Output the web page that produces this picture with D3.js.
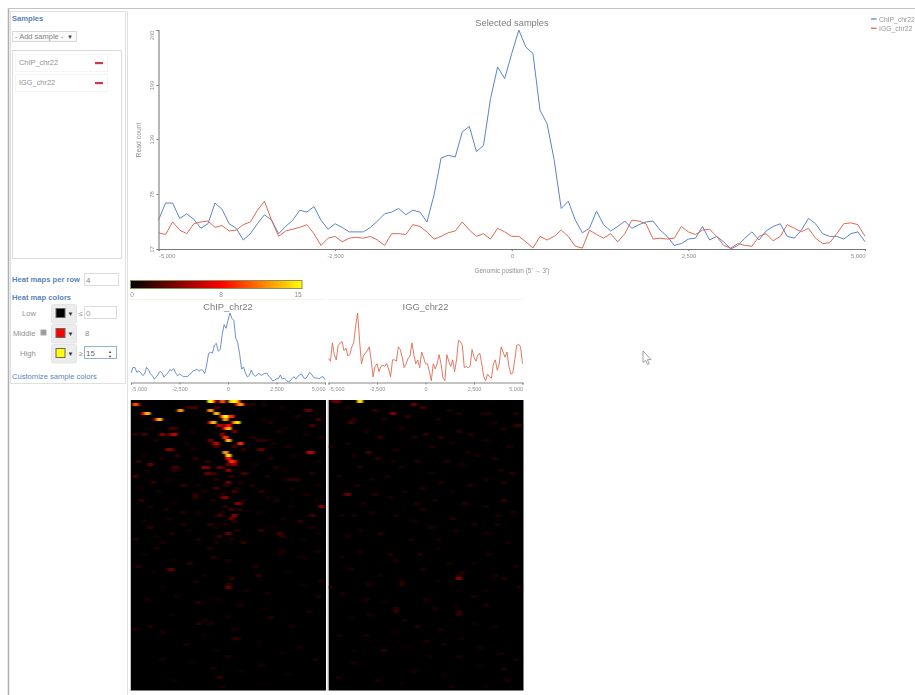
<!DOCTYPE html>
<html><head><meta charset="utf-8">
<script src="https://cdnjs.cloudflare.com/ajax/libs/d3/7.8.5/d3.min.js"></script>
<style>
html,body{margin:0;padding:0;background:#fff;overflow:hidden}
svg{display:block;filter:blur(0.5px)}
text{font-family:"Liberation Sans",Arial,sans-serif}
</style></head><body><svg id="c" width="915" height="695"></svg>
<script>
// ---------- data ----------
const sampleNames = ["ChIP_chr22", "IGG_chr22"];
const sampleColors = ["#5b83c9", "#dc6a50"];
const chipValues = [49,68,68,51,56,50,40,45,68,61,45,40,27,34,45,55,49,34,42,49,60,58,64,49,39,45,41,36,36,36,41,48,56,58,62,55,60,58,47,77,118,121,119,147,153,125,132,184,219,206,234,260,241,234,171,156,116,62,70,49,35,40,59,44,37,42,48,40,44,47,48,38,31,21,23,28,29,42,27,31,25,17,21,29,36,27,37,42,45,31,29,38,51,45,34,31,31,28,34,36,25];
const iggValues = [35,33,47,38,34,45,47,48,41,43,37,38,44,47,60,70,49,31,37,39,41,44,34,21,29,31,25,29,30,29,31,27,21,34,34,33,44,42,36,28,31,35,37,47,38,31,34,28,40,36,31,31,25,18,31,27,31,38,31,20,18,38,33,29,34,25,34,49,48,45,28,29,28,29,42,36,33,38,39,31,21,18,23,21,20,31,34,26,31,44,40,36,40,29,23,24,34,45,46,44,31];
const positions = d3.range(101).map(i => -5000 + i * 100);
const mainYTicks = [17, 78, 139, 199, 260];
const xTicks = [-5000, -2500, 0, 2500, 5000];
const colorDomain = [0, 8, 15];
const colorRange = ["#000000", "#ff0000", "#ffff00"];
// heat map spots: [row, column, value]
const chipCells = [
[0,26,15],[0,27,8],[0,30,10],[0,33,13],[0,34,15],[0,35,10],[1,36,12],[1,35,6.5],[1,1,10],[1,2,4],[1,37,4],[1,40,2.3],[1,44,1.7],
[3,16,12],[3,15,2.3],[2,21,3],[2,19,3],[2,20,2.3],[2,28,3],[4,5,13],[4,4,8],[3,26,12],[4,28,13],[5,31,15],[5,30,9],[5,33,9],[3,59,4],[3,58,3],
[6,9,13],[6,8,6.5],[7,27,13],[7,26,6.5],[6,31,12],[7,35,14],[7,34,10],[8,32,8],[8,29,6.5],[8,30,5],[9,32,13],[9,31,8],[10,34,4],[8,60,3],[6,62,3],
[9,13,3],[9,14,3],[11,14,6.5],[11,13,5],[11,10,5],[11,4,3],[11,1,2.3],[11,30,5],[12,31,9],[13,32,13],[13,26,4],[14,28,6.5],[14,27,3],[14,36,9],[13,42,2.3],[13,44,2.3],
[16,12,5],[16,13,4],[16,43,4],[16,42,2.3],[17,59,6.5],[17,60,5],[17,31,12],[18,32,14],[19,32,8],[20,33,9],[20,34,6.5],[21,34,5],[21,32,4],[21,6,4],[20,2,2.3],
[22,24,5],[22,25,4],[22,29,4],[22,30,3],[22,14,3],[22,15,2.3],[23,32,5],[25,1,3],[24,25,4],[24,26,3],[24,27,3],[27,32,4],[24,37,3],[24,38,2.3],[26,53,2.3],[26,55,2.3],[26,51,1.7],
[18,15,2.3],[19,21,2.3],[15,28,3],[15,34,3],[16,37,2.3],[20,25,2.3],[23,14,2.3],[27,7,2.3],[28,17,2.3],[29,28,3],[30,34,3],[31,21,2.3],[32,31,5],[32,30,3],[34,35,5],[34,36,3],[35,63,5],[36,33,3],
[33,3,2.3],[32,21,2.3],[30,43,2.3],[33,48,1.7],[38,34,5],[38,29,3],[38,60,3],[39,33,4],[40,56,2.3],[41,26,2.3],[42,6,2.3],[44,32,4],[44,49,3],[45,50,2.3],[45,29,2.3],[46,1,1.7],[47,37,2.3],[47,10,1.7],[43,43,2.3],[41,17,1.7],
[22,48,1.7],[28,40,1.7],[31,58,1.7],[36,11,1.7],[37,17,1.7],[42,60,1.7],[44,13,1.7],[46,22,1.7],[10,49,1.7],[12,40,1.7],[15,52,1.7],[7,46,1.7],[5,55,1.7],[12,63,1.7],[19,46,1.7],[24,60,1.7],
[26,28,2],[28,31,2.2],[29,35,1.8],[31,30,2],[33,27,1.6],[35,31,2],[36,36,1.8],[37,30,1.6],[40,34,2],[41,31,1.6],[42,28,1.5],[43,35,1.7],[25,33,2.2],[27,36,1.7],[30,24,1.6],[33,37,1.6],[46,33,1.6],[47,28,1.4],
[5,3,1.2],[9,6,1.2],[13,8,1.4],[14,18,1.2],[18,4,1.2],[19,10,1.4],[23,5,1.2],[26,12,1.4],[29,3,1.2],[30,9,1.4],[34,14,1.2],[35,6,1.2],[39,12,1.4],[40,4,1.2],[43,19,1.2],[45,8,1.2],[28,22,1.4],[37,22,1.3],[16,20,1.3],[10,20,1.2],
[6,44,1.3],[9,51,1.2],[14,47,1.4],[18,54,1.2],[21,41,1.4],[23,51,1.2],[25,45,1.4],[29,53,1.3],[32,45,1.2],[35,53,1.3],[37,42,1.2],[39,50,1.3],[42,47,1.2],[46,57,1.3],[20,62,1.2],[28,62,1.2],[33,61,1.2],[44,62,1.2],[2,50,1.3],[11,58,1.2],
[56,13,4],[56,12,2.3],[62,32,4],[61,32,2.3],[59,33,2.3],[58,42,2.3],[52,27,2],[55,2,2],[67,22,2],[74,22,2],[75,6,1.7],[79,35,2.3],[79,34,2],[76,34,1.7],[92,29,2.3],[72,46,2],
[54,19,2],[55,41,1.7],[49,26,1.7],[49,8,1.7],[53,32,1.7],[81,18,1.7],[77,10,1.7],[89,27,1.7],[95,30,1.4],[65,62,1.7],[60,63,1.7],[70,59,1.7],[75,53,1.4],[50,50,1.7],[51,49,1.4],[68,36,1.7],[85,32,1.7],[88,43,1.4],[82,56,1.4],[86,61,1.4],[86,10,1.4],[66,5,1.7],[65,15,1.4],[76,1,1.7],[50,62,1.4],[52,57,1.4],[60,21,1.4],[64,45,1.4],[74,26,1.7],[73,24,1.4],
[51,4,1.1],[53,14,1.1],[57,7,1.1],[58,24,1.2],[62,10,1],[63,38,1.1],[66,28,1.1],[69,44,1],[71,13,1],[72,32,1.2],[78,24,1],[80,42,1],[83,28,1.1],[84,50,1],[87,20,1],[90,36,1],[91,52,1],[93,14,1],[94,44,1],[57,52,1.1],[61,57,1]
];
const iggCells = [
[0,10,14],[0,2,4],[0,1,3],[0,3,3],[1,28,4],[4,21,5],[2,31,3],[7,7,3],[6,8,2.3],[17,13,3],[31,6,4],[31,5,2.3],[3,15,2.3],[5,26,2.3],[8,63,2.6],[8,62,2.3],[11,32,2.3],[12,17,2.3],[12,37,2],[33,58,2.6],[34,45,2],[44,17,2],[38,8,1.7],[24,61,2],[27,58,1.7],[15,0,1.7],[20,39,1.7],[20,29,1.7],[19,16,2],[14,6,1.7],[25,3,1.7],[10,43,2],[11,47,1.7],[4,51,1.7],[4,62,1.7],[9,58,1.7],[4,53,1.7],[4,43,1.7],[23,57,1.7],[19,55,1.7],[18,49,1.7],[17,46,1.7],[36,31,1.7],[34,29,1.7],[39,41,2],[41,48,1.7],[38,22,1.7],[31,15,2],[34,11,1.7],[38,4,1.4],[45,6,1.7],[46,27,1.7],[38,56,1.7],[37,61,1.7],[25,19,1.7],[27,37,1.7],[29,31,1.7],[28,9,1.7],[3,40,1.7],[6,18,1.7],[9,24,1.7],[15,34,1.7],[16,22,1.7],[22,10,1.7],[28,47,1.7],[30,25,1.7],[42,34,1.7],[44,52,1.7],[15,60,1.7],
[2,6,1.6],[6,36,1.4],[7,55,1.5],[10,12,1.4],[12,28,1.4],[13,52,1.5],[18,8,1.3],[21,44,1.4],[22,24,1.4],[24,34,1.3],[26,14,1.3],[26,52,1.4],[30,41,1.3],[32,20,1.3],[33,35,1.4],[35,52,1.3],[37,14,1.4],[40,28,1.3],[41,56,1.4],[43,10,1.3],[43,42,1.3],[46,36,1.3],[47,59,1.4],[20,21,1.3],[14,41,1.3],
[59,43,5],[58,43,2.3],[71,43,2.3],[70,43,2.3],[70,22,2.3],[69,22,2],[61,24,2],[60,24,1.7],[62,0,1.7],[83,18,2],[75,29,1.7],[66,32,1.7],[56,31,1.7],[57,44,1.7],[59,58,1.7],[62,63,1.7],[61,13,1.7],[56,7,1.7],[51,20,1.7],[50,10,1.7],[51,30,1.7],[51,53,1.4],[55,62,1.7],[65,48,1.4],[66,12,1.7],[69,35,1.7],[73,25,1.7],[80,32,1.7],[78,12,1.4],[78,3,1.4],[89,58,1.7],[85,43,1.4],[82,50,1.4],[93,59,1.7],[95,41,1.4],[90,28,1.4],[92,3,1.4],[93,16,1.4],[87,8,1.4],[86,62,1.4],[84,57,1.4],[76,37,1.4],[71,13,1.4],[54,40,1.4],[53,22,1.4],[58,55,1.4],[68,52,1.4],[75,55,1.4],[81,38,1.4],[64,4,1.4],
[49,36,1.1],[52,4,1.1],[54,48,1.1],[58,17,1.1],[60,36,1.1],[63,52,1],[67,18,1],[68,42,1.1],[72,7,1],[74,48,1],[77,22,1],[79,44,1],[82,26,1],[83,8,1],[85,33,1],[88,50,1],[91,38,1],[94,24,1],[95,52,1]
];

// ---------- helpers ----------
const svg = d3.select("#c");
const gray = "#8f8f8f";
const blue = "#5a85b5";
const defs = svg.append("defs");
const blur = defs.append("filter").attr("id","soft").attr("x","-5%").attr("y","-5%").attr("width","110%").attr("height","110%")
  .attr("color-interpolation-filters","sRGB");
blur.append("feGaussianBlur").attr("stdDeviation","1.2 0.75");
blur.append("feComponentTransfer").append("feFuncR").attr("type","gamma").attr("exponent",1.35).attr("amplitude",1).attr("offset",0);
const color = d3.scaleLinear().domain(colorDomain).range(colorRange);
const fmt = d => d3.format(",")(d).replace("−","-");
function T(x,y,s,size,fill,anchor,weight,rot){
  const t = svg.append("text").attr("x",x).attr("y",y).text(s).attr("font-size",size)
    .attr("fill",fill||gray).attr("text-anchor",anchor||"start");
  if(weight) t.attr("font-weight",weight);
  if(rot) t.attr("transform",`rotate(${rot} ${x} ${y})`);
  return t;
}
function R(x,y,w,h,fill,stroke,rx){
  return svg.append("rect").attr("x",x).attr("y",y).attr("width",w).attr("height",h)
    .attr("fill",fill||"none").attr("stroke",stroke||"none").attr("rx",rx||0);
}
function L(x1,y1,x2,y2,stroke,sw){
  return svg.append("line").attr("x1",x1).attr("y1",y1).attr("x2",x2).attr("y2",y2)
    .attr("stroke",stroke).attr("stroke-width",sw||1);
}
function series(g, values, x, y, col, sw){
  const line = d3.line().x((d,i)=>x(positions[i])).y(d=>y(d));
  g.append("path").attr("d",line(values)).attr("fill","none").attr("stroke",col)
   .attr("stroke-width",sw).attr("stroke-linejoin","round");
}

// ---------- page frame and side panel ----------
L(8.5,8,8.5,695,"#b0b0b0",1.5);
L(8,8.5,915,8.5,"#c4c4c4",1.2);
R(10.5,11.5,115,372,"#fff","#e0e0e0");
L(127.5,11,127.5,695,"#e0e0e0");
T(12,20.5,"Samples",7.6,blue,"start","bold");
R(12.5,31.5,64,10,"#fafafa","#d8d8d8");
T(15,39,"- Add sample -",7.5,"#888");
T(67,39,"▼",6,"#444");
R(12.5,50.5,109,208,"#fff","#dcdcdc");
sampleNames.forEach((n,i)=>{
  const y0 = [54,74][i];
  R(15.5,y0+.5,92,17,"#fff","#f4f4f4");
  T(19,y0+11,n,7.4,"#919191");
  R(95,y0+8,8,2.2,"#cf3a44");
});
T(12,282,"Heat maps per row",7.6,blue,"start","bold");
R(84.5,273.5,34,12,"#fff","#dcdcdc");
T(86,283,"4",8,"#888");
T(12,300,"Heat map colors",7.6,blue,"start","bold");
const ctlRows = [
 {label:"Low",lx:22,top:304,col:colorRange[0]},
 {label:"Middle",lx:13,top:324,col:colorRange[1]},
 {label:"High",lx:20,top:344,col:colorRange[2]}];
ctlRows.forEach(r=>{
  T(r.lx,r.top+11.5,r.label,7.6,"#919191");
  R(51.5,r.top+.5,25,18.5,"#ececec","#e4e4e4",2);
  R(56,r.top+4.5,9,9,r.col,"#666");
  T(67.5,r.top+12,"▼",6,"#333");
});
R(41,330,5,5,"#999","#aaa");
T(79,315.5,"≤",7,"#888");
R(84.5,306.5,32,12,"#fff","#dcdcdc");
T(86,315.5,colorDomain[0],8,"#999");
T(85,335.5,colorDomain[1],7.6,"#888");
T(79,355.5,"≥",7,"#888");
R(84.5,346.5,32,12,"#fff","#8fb0da");
T(86,355.5,colorDomain[2],8,"#666");
T(108,353,"▲",4,"#444"); T(108,358,"▼",4,"#444");
T(12,379,"Customize sample colors",7.6,blue);

// ---------- main chart ----------
const xMain = d3.scaleLinear().domain([-5000,5000]).range([158.5,865]);
const yMain = d3.scaleLinear().domain([17,260]).range([249,30]);
const gm = svg.append("g");
series(gm, chipValues, xMain, yMain, sampleColors[0], 1);
series(gm, iggValues, xMain, yMain, sampleColors[1], 1);
const ax = d3.axisBottom(xMain).tickValues(xTicks).tickSize(2).tickFormat(fmt);
const gx = svg.append("g").attr("transform","translate(0,249)").call(ax);
gx.select(".domain").attr("stroke","#777").attr("stroke-width",1);
gx.selectAll(".tick line").attr("stroke","#777");
gx.selectAll("text").attr("font-size",5.8).attr("fill",gray).attr("dy",3.5)
  .attr("font-family","Liberation Sans")
  .attr("text-anchor",d=>d===-5000?"start":d===5000?"end":"middle");
const ay = d3.axisLeft(yMain).tickValues(mainYTicks).tickSize(2);
const gy = svg.append("g").attr("transform","translate(158.5,0)").call(ay);
gy.select(".domain").attr("stroke","#888").attr("stroke-width",1.2);
gy.selectAll(".tick line").attr("stroke","#777");
gy.selectAll("text").attr("font-size",5.8).attr("fill",gray).attr("font-family","Liberation Sans")
  .attr("text-anchor",d=>d===260?"end":"middle").attr("dy",0).attr("x",0)
  .attr("transform",`translate(-5,0) rotate(-90)`);
T(512,26,"Selected samples",9.3,"#7c7c7c","middle");
T(141,140,"Read count",6.8,gray,"middle",null,-90);
T(512,272.5,"Genomic position (5' → 3')",6.4,gray,"middle");
sampleNames.forEach((n,i)=>{
  const y0 = 19+i*9.3;
  L(871,y0,876.5,y0,sampleColors[i],1.3);
  T(879,y0+2.5,n,6.8,"#969696");
});

// ---------- colour bar ----------
const grad = defs.append("linearGradient").attr("id","bar");
colorDomain.forEach((d,i)=>grad.append("stop").attr("offset",(d/15)).attr("stop-color",colorRange[i]));
R(130.5,280.5,171.5,8,"url(#bar)","#8d8d5c");
colorDomain.forEach((d,i)=>T([132,221,298][i],296.5,d,6.5,gray,"middle"));

// ---------- sample panels ----------
const panels = [
 {name:sampleNames[0],vals:chipValues,col:sampleColors[0],x0:131,x1:325,top:313,dom:[17,260],cells:chipCells},
 {name:sampleNames[1],vals:iggValues,col:sampleColors[1],x0:328.5,x1:522.5,top:313,dom:[17,70],cells:iggCells}];
panels.forEach((p,pi)=>{
  L(p.x0-1,299.5,p.x1+1,299.5,"#f3f3f3");
  T((p.x0+p.x1)/2,309.5,p.name,9.4,"#7c7c7c","middle");
  const x = d3.scaleLinear().domain([-5000,5000]).range([p.x0,p.x1]);
  const y = d3.scaleLinear().domain(p.dom).range([382,p.top]);
  series(svg.append("g"),p.vals,x,y,p.col,.9);
  const a = svg.append("g").attr("transform","translate(0,382.5)")
    .call(d3.axisBottom(x).tickValues(xTicks).tickSize(2).tickFormat(fmt));
  a.select(".domain").attr("stroke","#888");
  a.selectAll(".tick line").attr("stroke","#888");
  a.selectAll("text").attr("font-size",5.5).attr("fill",gray).attr("dy",3)
    .attr("font-family","Liberation Sans")
    .attr("text-anchor",d=>d===-5000?"start":d===5000?"end":"middle");
  // heat map
  const cx = d3.scaleBand().domain(d3.range(65)).range([p.x0,p.x0+195]);
  const cy = d3.scaleBand().domain(d3.range(97)).range([400,691]);
  defs.append("clipPath").attr("id","hm"+pi).append("rect")
    .attr("x",p.x0).attr("y",400).attr("width",195).attr("height",290.5);
  R(p.x0,400,195,290.5,"#000");
  svg.append("g").attr("clip-path",`url(#hm${pi})`)
   .append("g").attr("filter","url(#soft)")
   .selectAll("rect").data(p.cells.slice().sort((a,b)=>d3.ascending(a[2],b[2]))).join("rect")
   .attr("x",d=>cx(d[1])-cx.bandwidth()/2).attr("y",d=>cy(d[0]))
   .attr("width",cx.bandwidth()*2).attr("height",cy.bandwidth())
   .attr("fill",d=>color(d[2]));
  L(p.x0-.5,400,p.x0-.5,691,"#c4c4c4");
});

// ---------- mouse pointer seen in the screenshot ----------
svg.append("path").attr("d","M643,351 V362.5 L645.6,360.3 L647.5,364.5 L649.2,363.7 L647.4,359.7 L651,359.5 Z")
  .attr("fill","#fff").attr("stroke","#888").attr("stroke-width",.8);
</script></body></html>
